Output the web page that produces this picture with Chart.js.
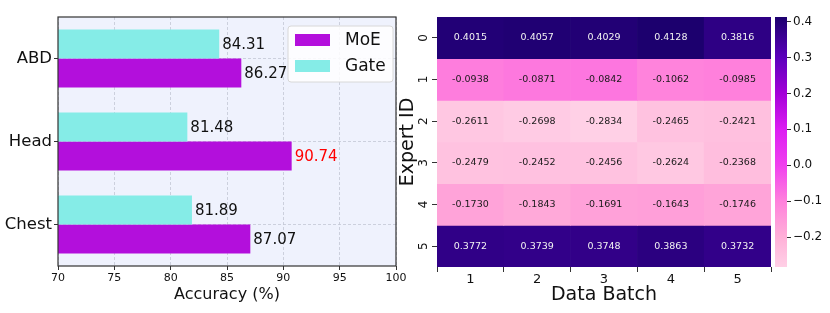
<!DOCTYPE html>
<html><head><meta charset="utf-8">
<script src="https://cdn.jsdelivr.net/npm/chart.js@4.4.1/dist/chart.umd.min.js"></script>
<style>
html,body{margin:0;padding:0;background:#fff;}
body{width:830px;height:313px;overflow:hidden;position:relative;}
canvas{position:absolute;top:0;}
</style></head><body>
<canvas id="c1" width="410" height="313" style="left:0;width:410px;height:313px"></canvas>
<canvas id="c2" width="385" height="313" style="left:390px;width:385px;height:313px"></canvas>
<canvas id="c3" width="60" height="313" style="left:770px;width:60px;height:313px"></canvas>
<script>
// ---- data: left panel ----
const regions = ['ABD', 'Head', 'Chest'];
const moeAccuracy = [86.27, 90.74, 87.07];
const gateAccuracy = [84.31, 81.48, 81.89];
const accuracyTicks = [70, 75, 80, 85, 90, 95, 100];

// ---- data: right panel (heatmap) ----
const dataBatches = ['1', '2', '3', '4', '5'];
const expertIds = ['0', '1', '2', '3', '4', '5'];
const expert0 = [0.4015, 0.4057, 0.4029, 0.4128, 0.3816];
const expert1 = [-0.0938, -0.0871, -0.0842, -0.1062, -0.0985];
const expert2 = [-0.2611, -0.2698, -0.2834, -0.2465, -0.2421];
const expert3 = [-0.2479, -0.2452, -0.2456, -0.2624, -0.2368];
const expert4 = [-0.1730, -0.1843, -0.1691, -0.1643, -0.1746];
const expert5 = [0.3772, 0.3739, 0.3748, 0.3863, 0.3732];
const colorbarTicks = [-0.2, -0.1, 0.0, 0.1, 0.2, 0.3, 0.4];

const expertRows = [expert0, expert1, expert2, expert3, expert4, expert5];
const allValues = expertRows.flat();
const vMin = Math.min(...allValues);
const vMax = Math.max(...allValues);

// colormap (style)
const cmapStops = [
  [0.00, '#ffd0e6'],
  [0.12, '#ffb0d8'],
  [0.265, '#ff80dc'],
  [0.407, '#f040ee'],
  [0.55, '#dc1ef2'],
  [0.694, '#a400d8'],
  [0.838, '#5c00bc'],
  [1.00, '#1c006e']
];
function hex2rgb(h){ return [parseInt(h.slice(1,3),16), parseInt(h.slice(3,5),16), parseInt(h.slice(5,7),16)]; }
function cmap(v){
  let t = (v - vMin) / (vMax - vMin);
  t = Math.max(0, Math.min(1, t));
  for (let k = 1; k < cmapStops.length; k++) {
    if (t <= cmapStops[k][0]) {
      const [t0, c0] = cmapStops[k-1], [t1, c1] = cmapStops[k];
      const f = (t - t0) / (t1 - t0);
      const a = hex2rgb(c0), b = hex2rgb(c1);
      return 'rgb(' + a.map((x, i) => Math.round(x + (b[i] - x) * f)).join(',') + ')';
    }
  }
  return cmapStops[cmapStops.length-1][1];
}

Chart.defaults.font.family = "'DejaVu Sans', sans-serif";
Chart.defaults.color = '#111';

const plotBg = {
  id: 'plotBg',
  beforeDraw(chart, args, opts) {
    const {ctx, chartArea: a} = chart;
    ctx.save(); ctx.fillStyle = opts.color;
    ctx.fillRect(a.left, a.top, a.right - a.left, a.bottom - a.top);
    ctx.restore();
  }
};
const frame = {
  id: 'frame',
  afterDraw(chart) {
    const {ctx, chartArea: a} = chart;
    ctx.save(); ctx.strokeStyle = '#333'; ctx.lineWidth = 1.2;
    ctx.strokeRect(a.left, a.top, a.right - a.left, a.bottom - a.top);
    ctx.restore();
  }
};
const valueLabels = {
  id: 'valueLabels',
  afterDatasetsDraw(chart) {
    const {ctx} = chart;
    const maxVal = Math.max(...chart.data.datasets.flatMap(d => d.data));
    ctx.save();
    ctx.font = "15px 'DejaVu Sans'";
    ctx.textBaseline = 'middle'; ctx.textAlign = 'left';
    chart.data.datasets.forEach((ds, i) => {
      chart.getDatasetMeta(i).data.forEach((el, j) => {
        const v = ds.data[j];
        ctx.fillStyle = v === maxVal ? '#ff0000' : '#111';
        ctx.fillText(v.toFixed(2), el.x + 3, el.y + 1);
      });
    });
    ctx.restore();
  }
};
const insideLegend = {
  id: 'insideLegend',
  afterDraw(chart) {
    const {ctx, chartArea: a} = chart;
    const items = chart.data.datasets.slice().reverse();
    const bx = a.right - 108, by = a.top + 9, bw = 105, bh = 56;
    ctx.save();
    ctx.fillStyle = 'rgba(255,255,255,0.85)';
    ctx.strokeStyle = '#d8d8d8'; ctx.lineWidth = 1;
    ctx.beginPath();
    if (ctx.roundRect) ctx.roundRect(bx, by, bw, bh, 3); else ctx.rect(bx, by, bw, bh);
    ctx.fill(); ctx.stroke();
    ctx.font = "17px 'DejaVu Sans'";
    ctx.textBaseline = 'middle'; ctx.textAlign = 'left';
    items.forEach((ds, k) => {
      const y = by + 14 + k * 26;
      ctx.fillStyle = ds.backgroundColor;
      ctx.fillRect(bx + 7, y - 6, 35, 12);
      ctx.fillStyle = '#111';
      ctx.fillText(ds.label, bx + 57, y + 1);
    });
    ctx.restore();
  }
};
const cellLabels = {
  id: 'cellLabels',
  afterDatasetsDraw(chart) {
    const {ctx} = chart;
    ctx.save();
    ctx.font = "9.5px 'DejaVu Sans'";
    ctx.textBaseline = 'middle'; ctx.textAlign = 'center';
    chart.data.datasets.forEach((ds, i) => {
      chart.getDatasetMeta(i).data.forEach((el, j) => {
        const v = ds.values[j];
        const p = el.getCenterPoint();
        ctx.fillStyle = v > 0.2 ? '#f2f2f2' : '#1a1a1a';
        ctx.fillText(v.toFixed(4), p.x, p.y);
      });
    });
    ctx.restore();
  }
};

// ---- left: horizontal bar chart ----
new Chart(document.getElementById('c1'), {
  type: 'bar',
  data: {
    labels: regions,
    datasets: [
      {label: 'Gate', data: gateAccuracy, backgroundColor: '#85ece7'},
      {label: 'MoE', data: moeAccuracy, backgroundColor: '#b30fdc'}
    ]
  },
  options: {
    indexAxis: 'y', responsive: false, animation: false,
    layout: {padding: {top: 17, right: 14, left: 0, bottom: 0}},
    datasets: {bar: {categoryPercentage: 0.7, barPercentage: 1}},
    scales: {
      x: {
        type: 'linear', min: 70, max: 100,
        afterBuildTicks: s => { s.ticks = accuracyTicks.map(v => ({value: v})); },
        afterFit: s => { s.height = 47; },
        grid: {color: '#c3c7d4', lineWidth: 0.8, tickColor: '#333', tickLength: 4, tickWidth: 1},
        border: {display: false, dash: [3, 2]},
        ticks: {font: {size: 11}, padding: 2, color: '#111', maxRotation: 0},
        title: {display: true, text: 'Accuracy (%)', font: {size: 16}, color: '#111', padding: {top: 0, bottom: 9}}
      },
      y: {
        afterFit: s => { s.width = 58; },
        grid: {offset: false, color: '#c3c7d4', lineWidth: 0.8, tickColor: '#333', tickLength: 4, tickWidth: 1},
        border: {display: false, dash: [3, 2]},
        ticks: {font: {size: 16.5}, padding: 2, color: '#111'}
      }
    },
    plugins: {legend: {display: false}, tooltip: {enabled: false}, plotBg: {color: '#eff2fd'}}
  },
  plugins: [plotBg, frame, valueLabels, insideLegend]
});

// ---- right: heatmap ----
new Chart(document.getElementById('c2'), {
  type: 'bar',
  data: {
    labels: dataBatches,
    datasets: expertRows.map((row, i) => ({
      label: expertIds[i],
      values: row,
      data: row.map(() => [i - 0.5, i + 0.5]),
      backgroundColor: row.map(cmap),
      borderWidth: 0,
      grouped: false, barPercentage: 1, categoryPercentage: 1
    }))
  },
  options: {
    responsive: false, animation: false,
    layout: {padding: {top: 17, right: 4, left: 0, bottom: 0}},
    scales: {
      x: {
        afterFit: s => { s.height = 46; },
        grid: {drawOnChartArea: false, tickColor: '#333', tickLength: 5, tickWidth: 1},
        border: {display: false},
        ticks: {font: {size: 13}, padding: 0, color: '#111'},
        title: {display: true, text: 'Data Batch', font: {size: 19}, color: '#111', padding: {top: 0, bottom: 7}}
      },
      y: {
        type: 'linear', min: -0.5, max: 5.5, reverse: true,
        afterBuildTicks: s => { s.ticks = expertIds.map((_, i) => ({value: i})); },
        afterFit: s => { s.width = 47; },
        grid: {drawOnChartArea: false, tickColor: '#333', tickLength: 5, tickWidth: 1},
        border: {display: false},
        ticks: {font: {size: 12}, padding: 4, color: '#111', minRotation: 90, maxRotation: 90, crossAlign: 'center',
                callback: v => expertIds[v]},
        title: {display: true, text: 'Expert ID', font: {size: 19}, color: '#111', padding: {top: 7, bottom: 0}}
      }
    },
    plugins: {legend: {display: false}, tooltip: {enabled: false}}
  },
  plugins: [cellLabels]
});

// ---- colorbar ----
function colorbarGradient(chart) {
  const a = chart.chartArea;
  if (!a) return cmap(vMin);
  const ys = chart.scales.y;
  const g = chart.ctx.createLinearGradient(0, ys.getPixelForValue(vMin), 0, ys.getPixelForValue(vMax));
  cmapStops.forEach(([t, c]) => g.addColorStop(t, c));
  return g;
}
new Chart(document.getElementById('c3'), {
  type: 'bar',
  data: {
    labels: [''],
    datasets: [{data: [[vMin, vMax]], backgroundColor: ctx => colorbarGradient(ctx.chart),
                borderWidth: 0, barPercentage: 1, categoryPercentage: 1}]
  },
  options: {
    responsive: false, animation: false,
    layout: {padding: {top: 17, right: 0, left: 5, bottom: 46}},
    scales: {
      x: {display: false},
      y: {
        position: 'right', min: vMin, max: vMax,
        afterBuildTicks: s => { s.ticks = colorbarTicks.map(v => ({value: v})); },
        afterFit: s => { s.width = 43; },
        grid: {drawOnChartArea: false, tickColor: '#333', tickLength: 4, tickWidth: 1},
        border: {display: false},
        ticks: {font: {size: 12}, padding: 2, color: '#111',
                callback: v => (v < 0 ? '\u2212' : '') + Math.abs(v).toFixed(1)}
      }
    },
    plugins: {legend: {display: false}, tooltip: {enabled: false}}
  }
});
</script>
</body></html>
